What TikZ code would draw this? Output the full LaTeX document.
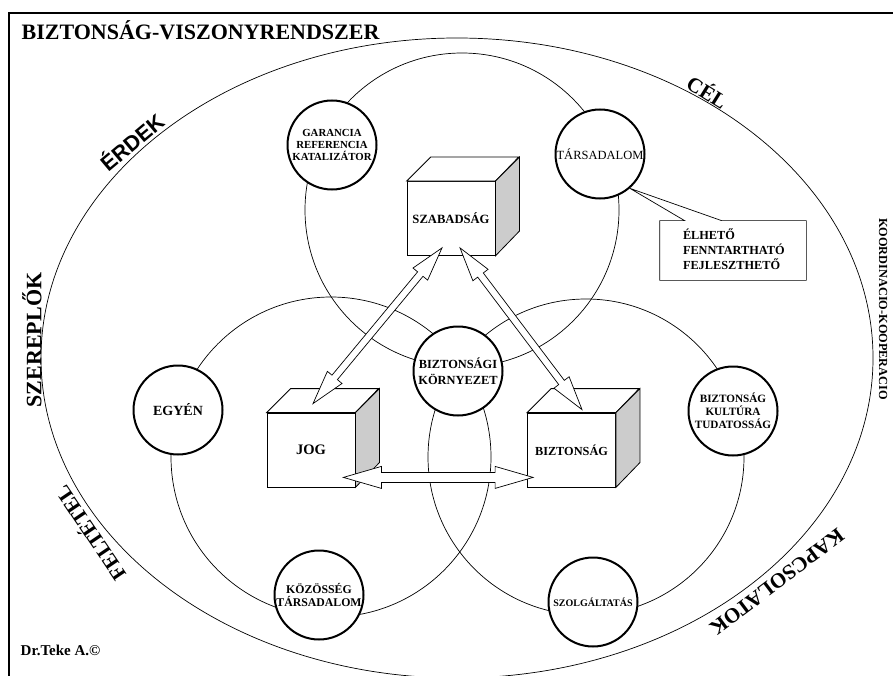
\documentclass[tikz,border=0pt]{standalone}
\usepackage{fontspec}
\setmainfont{Liberation Serif}
\newfontfamily\arialfont{Liberation Sans}
\usetikzlibrary{calc}

\tikzset{
  kis kor/.style={circle, draw, line width=2pt, fill=white, minimum size=89pt,
    inner sep=0pt, align=center, font=\bfseries\fontsize{10.8}{12}\selectfont},
  doboz/.style={rectangle, draw, line width=0.8pt, fill=white, minimum width=88pt,
    minimum height=74pt, font=\bfseries\fontsize{12.6}{15}\selectfont},
  nagy felirat/.style={font=\bfseries\fontsize{21}{21}\selectfont},
  nyil/.style={draw, fill=white, line width=0.7pt},
}

% front face + top + grey side
\newcommand{\kocka}[3]{%
  \node[doboz] (#1) at (#2) {#3};
  \draw[line width=0.8pt, fill=white] (#1.north west) -- ++(24,-24) -- ++(88,0) -- (#1.north east) -- cycle;
  \draw[line width=0.8pt, fill=black!20] (#1.north east) -- ++(24,-24) -- ++(0,74) -- (#1.south east) -- cycle;
}

% hollow double arrow: from, to, head length, head half width, shaft half width
\newcommand{\ketnyil}[5]{%
  \coordinate (na) at ($(#1)!#3!(#2)$);
  \coordinate (nb) at ($(#2)!#3!(#1)$);
  \draw[nyil] (#1) -- ($(na)!#4!90:(#2)$) -- ($(na)!#5!90:(#2)$)
    -- ($(nb)!#5!-90:(#1)$) -- ($(nb)!#4!-90:(#1)$) -- (#2)
    -- ($(nb)!#4!90:(#1)$) -- ($(nb)!#5!90:(#1)$)
    -- ($(na)!#5!-90:(#2)$) -- ($(na)!#4!-90:(#2)$) -- cycle;
}

\begin{document}
\begin{tikzpicture}[x=1pt,y=-1pt,line width=0.7pt]
  \useasboundingbox (0,0) rectangle (893,676);
  \draw[line width=2pt] (9,700) -- (9,13) -- (905,13);

  % outer ellipse and the three circles
  \draw (457,358) ellipse [x radius=416, y radius=320];
  \draw (462,210) circle [radius=157];
  \draw (331,457) circle [radius=160];
  \draw (586,457) circle [radius=158];

  % small circles
  \node[kis kor] (garancia) at (332,145) {GARANCIA\\REFERENCIA\\KATALIZÁTOR};
  \node[kis kor, font=\fontsize{12.5}{14}\selectfont] (tars) at (600,154) {TÁRSADALOM};
  \node[kis kor, font=\bfseries\fontsize{12.4}{16}\selectfont] (kornyezet) at (458,371) {BIZTONSÁGI\\KÖRNYEZET};
  \node[kis kor, font=\bfseries\fontsize{14}{16}\selectfont] (egyen) at (178,410) {EGYÉN};
  \node[kis kor, font=\bfseries\fontsize{11.2}{13}\selectfont] (kultura) at (733,411) {BIZTONSÁG\\KULTÚRA\\TUDATOSSÁG};
  \node[kis kor, font=\bfseries\fontsize{11.8}{13}\selectfont] (kozosseg) at (319,595) {KÖZÖSSÉG\\TÁRSADALOM};
  \node[kis kor, font=\bfseries\fontsize{10}{12}\selectfont] (szolg) at (593,602) {SZOLGÁLTATÁS};

  % boxes
  \kocka{szabadsag}{451,218.5}{SZABADSÁG}
  \kocka{jog}{311,450}{\fontsize{14.5}{15}\selectfont JOG}
  \kocka{bizt}{571.5,450}{\fontsize{12.3}{15}\selectfont BIZTONSÁG}

  % arrows
  \ketnyil{$(szabadsag.south)+(-9,-8)$}{$(jog.north)+(2,-9)$}{34pt}{9.5pt}{3.5pt}
  \ketnyil{$(szabadsag.south)+(9,-8)$}{$(bizt.north)+(10.5,-3)$}{34pt}{9.5pt}{3.5pt}
  \ketnyil{$(jog.south east)+(-12,-10)$}{$(bizt.south west)+(6,-10)$}{38pt}{11pt}{5pt}

  % callout
  \node[minimum width=146pt, minimum height=59pt, inner sep=0pt] (elheto) at (733,250.5) {};
  \draw (elheto.north west) -- ++(25,0) -- (tars.-49) -- ($(elheto.north west)+(62,0)$)
    -- (elheto.north east) -- (elheto.south east) -- (elheto.south west) -- cycle;
  \node[anchor=west, align=left, inner sep=0pt, font=\bfseries\fontsize{12.3}{15}\selectfont]
    (elheto szoveg) at ($(elheto.west)+(23,-1)$) {ÉLHETŐ\\FENNTARTHATÓ\\FEJLESZTHETŐ};

  % labels
  \node[font=\bfseries\fontsize{22}{22}\selectfont, anchor=base west] (cim) at (18,40) {BIZTONSÁG-VISZONYRENDSZER};
  \node[font=\bfseries\fontsize{22}{22}\selectfont, rotate=90] (szereplok) at (32,340) {SZEREPLŐK};
  \node[font=\arialfont\bfseries\fontsize{21.5}{21.5}\selectfont, rotate=40] (erdek) at (131,141) {ÉRDEK};
  \node[nagy felirat, rotate=-32] (cel) at (708,91) {CÉL};
  \node[font=\bfseries\fontsize{12.3}{12.3}\selectfont, rotate=-90] (koord) at (883,309) {KOORDINACIO-KOOPERACIO};
  \node[nagy felirat, rotate=217] (kapcs) at (777,582) {KAPCSOLATOK};
  \node[nagy felirat, rotate=124] (feltetel) at (89,534) {FELTÉTEL};
  \node[font=\bfseries\fontsize{15}{15}\selectfont, anchor=base west] (szerzo) at (17,655) {Dr.Teke A.©};
\end{tikzpicture}
\end{document}
